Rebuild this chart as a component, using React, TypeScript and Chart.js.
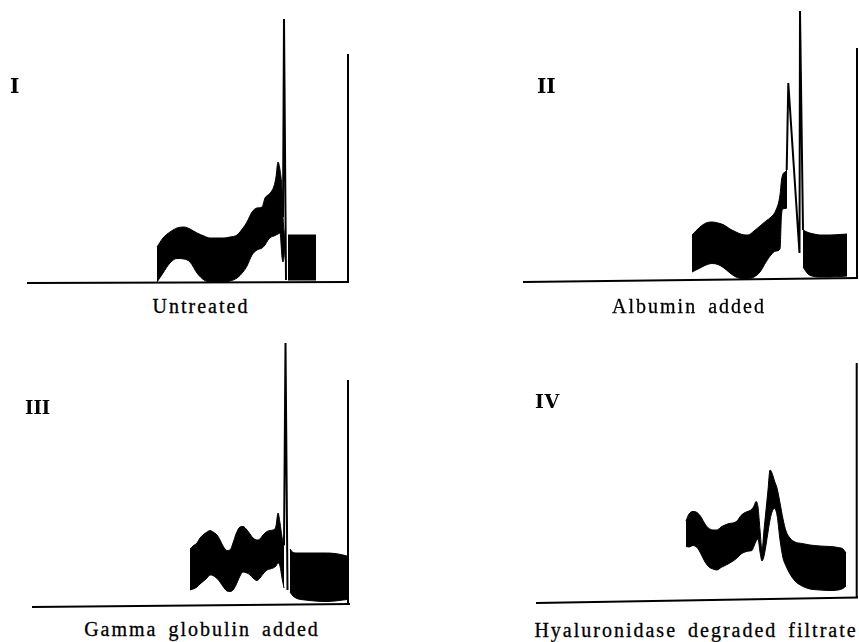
import React, { useEffect, useRef } from "react";
import { Chart, registerables } from "chart.js";

Chart.register(...registerables);

// ---------- Data (x = distance along strip, y = deflection above baseline) ----------

// Panel I – Untreated
const p1X = [130, 136, 143, 150, 157, 163, 170, 177, 183, 190, 197, 203, 210, 216, 220, 225, 230, 235, 238, 241, 244, 247, 249, 251, 253, 255, 256, 258];
const p1Upper = [36, 45, 51, 55, 56, 54, 50, 47, 45, 45, 45, 46, 48, 55, 61, 71, 75, 76, 85, 88, 91, 97, 106, 121, 113, 93, 66, 43];
const p1Lower = [1, 10, 20, 24.5, 24, 21, 10, 3, 1, 1, 1, 2, 5, 11, 17, 28, 33, 35, 38, 43, 46, 47, 48, 49, 50, 26, 21, 33];
const p1BoxX = [261, 289];
const p1BoxUpper = [48, 48];
const p1BoxLower = [3, 3];
const p1SpikeX = [256, 257, 259];
const p1SpikeY = [66, 264, 3];
const p1MarkerX = [321, 321];
const p1MarkerY = [1, 229];
const p1BaseX = [0, 322];
const p1BaseY = [0, 1];

// Panel II – Albumin added
const p2X = [169, 177, 183, 189, 195, 201, 207, 213, 219, 225, 231, 237, 243, 248, 253, 257, 258.5, 260, 262, 264];
const p2Upper = [47, 55, 59, 60, 59, 57, 53, 50, 47.5, 47, 51, 56, 61, 65, 72, 87, 102, 108, 110, 112];
const p2Lower = [10, 14, 17, 18.5, 17.5, 14, 9, 5, 3.5, 3.5, 5, 10, 20, 27, 31, 33, 67, 73, 73.5, 74];
const p2BoxX = [280, 285, 291, 297, 307, 317, 324];
const p2BoxUpper = [52, 49.5, 48, 47, 47, 47.5, 48];
const p2BoxLower = [15, 8, 5.5, 5, 5, 5.5, 6];
const p2SpikeX = [263.7, 265.3, 276.5, 277, 280];
const p2SpikeY = [112, 199, 29, 271, 52];
const p2MarkerX = [334, 334];
const p2MarkerY = [4, 234];
const p2BaseX = [0, 335];
const p2BaseY = [0, 4];

// Panel III – Gamma globulin added
const p3X = [158, 161, 165, 168, 171, 175, 178, 181, 185, 188, 191, 195, 198, 201, 204, 208, 211, 215, 218, 221, 225, 228, 231, 235, 238, 241, 244, 246, 248, 250, 252];
const p3Upper = [58, 61, 64, 69, 72, 75, 76.5, 75, 72, 67, 61, 56.5, 57, 64, 73, 80, 80.5, 77, 73, 69, 67, 68, 72, 75.5, 76.5, 77, 81, 94, 84, 70, 61];
const p3Lower = [17, 18, 20, 23, 25.5, 29, 32, 31.5, 28.5, 25, 20.5, 16, 15.5, 17, 22, 31, 35, 34, 32, 29, 26.5, 29, 33, 37, 38, 39, 41, 44, 41, 29, 19];
const p3BoxX = [258, 261, 265, 273, 283, 293, 303, 311, 315];
const p3BoxUpper = [58, 54.5, 54, 54, 54, 54, 53.5, 52, 51];
const p3BoxLower = [15, 11, 8.5, 7, 6, 5.5, 6, 7, 7.5];
const p3SpikeX = [252, 253.5, 255.5];
const p3SpikeY = [62, 264, 17];
const p3MarkerX = [316, 316];
const p3MarkerY = [3, 227];
const p3BaseX = [0, 318];
const p3BaseY = [0, 3];

// Panel IV – Hyaluronidase degraded filtrate
const p4X = [150, 153, 157, 161, 165, 169, 173, 177, 181, 185, 189, 193, 197, 201, 205, 209, 213, 216, 218, 220, 222, 224, 226, 228, 230, 232, 234, 236, 238.5, 241, 244, 247, 250, 254, 259, 266, 274, 284, 294, 302, 307, 310];
const p4Upper = [82, 89, 91.5, 90.5, 86, 79, 74.5, 73, 73, 76, 78, 79.5, 80, 82, 87.5, 90.5, 92, 94, 97, 101.5, 96, 73, 53, 73, 93, 113, 133, 130, 122, 115, 100, 84, 72, 65, 61, 59.5, 58, 57, 56.5, 55.5, 54, 50];
const p4Lower = [56.5, 56, 57.5, 55.5, 49, 41, 36, 34, 33, 35.5, 37.5, 39.5, 42, 45, 49, 51, 52, 52.5, 57, 61.5, 64, 51, 42, 47, 58, 71, 83, 91, 94.5, 88, 63, 45, 37, 29, 22, 17, 14, 13, 12.5, 13, 14.5, 17];
const p4MarkerX = [320.7, 320.7];
const p4MarkerY = [5, 240];
const p4BaseX = [0, 322];
const p4BaseY = [0, 5.5];

const numerals = ["I", "II", "III", "IV"];
const captions = ["Untreated", "Albumin added", "Gamma globulin added", "Hyaluronidase degraded filtrate"];

// ---------- Styling / layout ----------
const INK = "#000000";

const pts = (xs: number[], ys: number[]) => xs.map((x, i) => ({ x, y: ys[i] }));

function band(xs: number[], up: number[], lo: number[]) {
  return [
    {
      data: pts(xs, up),
      borderColor: INK,
      borderWidth: 1,
      fill: false,
      cubicInterpolationMode: "monotone",
    },
    {
      data: pts(xs, lo),
      borderColor: INK,
      borderWidth: 1,
      backgroundColor: INK,
      fill: "-1",
      cubicInterpolationMode: "monotone",
    },
  ];
}

function stroke(xs: number[], ys: number[], width: number) {
  return {
    data: pts(xs, ys),
    borderColor: INK,
    borderWidth: width,
    fill: false,
    tension: 0,
  };
}

const panels = [
  {
    left: 17, top: 9, w: 343, h: 284,
    datasets: [
      ...band(p1X, p1Upper, p1Lower),
      ...band(p1BoxX, p1BoxUpper, p1BoxLower),
      stroke(p1SpikeX, p1SpikeY, 2),
      stroke(p1MarkerX, p1MarkerY, 2),
      stroke(p1BaseX, p1BaseY, 2),
    ],
  },
  {
    left: 513, top: 0, w: 346, h: 292,
    datasets: [
      ...band(p2X, p2Upper, p2Lower),
      ...band(p2BoxX, p2BoxUpper, p2BoxLower),
      stroke(p2SpikeX, p2SpikeY, 2),
      stroke(p2MarkerX, p2MarkerY, 2),
      stroke(p2BaseX, p2BaseY, 2),
    ],
  },
  {
    left: 22, top: 330, w: 340, h: 287,
    datasets: [
      ...band(p3X, p3Upper, p3Lower),
      ...band(p3BoxX, p3BoxUpper, p3BoxLower),
      stroke(p3SpikeX, p3SpikeY, 2),
      stroke(p3MarkerX, p3MarkerY, 2),
      stroke(p3BaseX, p3BaseY, 2),
    ],
  },
  {
    left: 526, top: 350, w: 333, h: 263,
    datasets: [
      ...band(p4X, p4Upper, p4Lower),
      stroke(p4MarkerX, p4MarkerY, 2),
      stroke(p4BaseX, p4BaseY, 2),
    ],
  },
];

const numeralPos = [
  { left: 10, top: 76, size: 20, spacing: 0 },
  { left: 537, top: 76, size: 20, spacing: 0 },
  { left: 25, top: 399, size: 18, spacing: 0 },
  { left: 535, top: 392, size: 19, spacing: 0.5 },
];

const captionPos = [
  { cx: 201, top: 296 },
  { cx: 689, top: 296 },
  { cx: 202, top: 619 },
  { cx: 696, top: 620 },
];

function Panel({ cfg }: { cfg: any }) {
  const ref = useRef<HTMLCanvasElement>(null);
  useEffect(() => {
    const xMin = -10;
    const yMin = -10;
    const chart = new Chart(ref.current as HTMLCanvasElement, {
      type: "line",
      data: { datasets: cfg.datasets as any },
      options: {
        animation: false,
        responsive: false,
        maintainAspectRatio: false,
        events: [],
        layout: { padding: 0 },
        elements: { point: { radius: 0 } },
        plugins: {
          legend: { display: false },
          tooltip: { enabled: false },
          title: { display: false },
        },
        scales: {
          x: { type: "linear", display: false, min: xMin, max: xMin + cfg.w },
          y: { type: "linear", display: false, min: yMin, max: yMin + cfg.h },
        },
      } as any,
    });
    return () => chart.destroy();
  }, [cfg]);
  return (
    <canvas
      ref={ref}
      width={cfg.w}
      height={cfg.h}
      style={{ position: "absolute", left: cfg.left, top: cfg.top, width: cfg.w, height: cfg.h }}
    />
  );
}

export default function App() {
  return (
    <div style={{ position: "absolute", left: 0, top: 0, width: 859, height: 642, background: "#fff", overflow: "hidden" }}>
      {panels.map((p, i) => (
        <Panel key={i} cfg={p} />
      ))}
      {numerals.map((n, i) => (
        <div
          key={"n" + i}
          style={{
            position: "absolute",
            left: numeralPos[i].left,
            top: numeralPos[i].top,
            fontFamily: "'DejaVu Serif', serif",
            fontWeight: 700,
            fontSize: numeralPos[i].size,
            lineHeight: 1,
            color: INK,
            letterSpacing: numeralPos[i].spacing,
          }}
        >
          {n}
        </div>
      ))}
      {captions.map((c, i) => (
        <div
          key={"c" + i}
          style={{
            position: "absolute",
            left: captionPos[i].cx - 200,
            width: 400,
            top: captionPos[i].top,
            textAlign: "center",
            fontFamily: "'Liberation Serif', 'Times New Roman', serif",
            fontSize: 20,
            lineHeight: 1,
            letterSpacing: 2,
            wordSpacing: 4,
            color: INK,
            whiteSpace: "nowrap",
            WebkitTextStroke: "0.3px #000",
          }}
        >
          {c}
        </div>
      ))}
    </div>
  );
}
